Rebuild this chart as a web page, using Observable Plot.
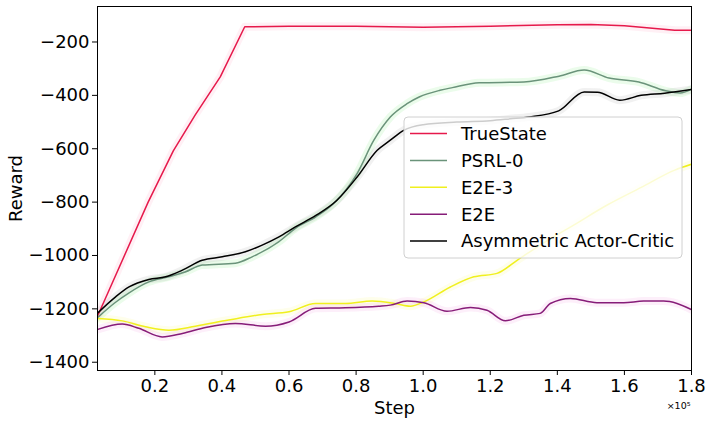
<!DOCTYPE html>
<html>
<head>
<meta charset="utf-8">
<script src="https://cdn.jsdelivr.net/npm/d3@7"></script>
<script src="https://cdn.jsdelivr.net/npm/@observablehq/plot@0.6"></script>
<style>
  body { margin: 0; background: #fff; }
  #chart { position: relative; width: 712px; height: 424px; }
</style>
</head>
<body>
<div id="chart"></div>
<script>
// ---- data (step in units of 1e5) ----
const seriesNames = ["TrueState", "PSRL-0", "E2E-3", "E2E", "Asymmetric Actor-Critic"];
const seriesColors = ["#e6194b", "#6a937a", "#f0f01e", "#861c78", "#000000"];
const glowColors = ["#ff6f9a", "#39e63c", "#f5f53a", "#f060d0", "#777777"];

const trueSteps = [0.03, 0.18, 0.255, 0.32, 0.395, 0.468, 0.6, 0.8, 1.0, 1.2, 1.4, 1.5, 1.6, 1.7, 1.75, 1.8];
const trueVals  = [-1225, -800, -608, -474, -331, -143, -141, -141, -145, -141, -135, -134, -139, -150, -156, -156];

const psrlSteps = [0.03, 0.08, 0.122, 0.182, 0.241, 0.29, 0.341, 0.44, 0.49, 0.569, 0.619, 0.68, 0.733, 0.803, 0.853, 0.902, 0.952, 0.988, 1.05, 1.087, 1.167, 1.3, 1.405, 1.48, 1.554, 1.643, 1.723, 1.766, 1.8];
const psrlVals  = [-1232, -1178, -1141, -1099, -1080, -1062, -1036, -1029, -1005, -949, -898, -855, -805, -693, -568, -481, -431, -406, -381, -371, -353, -350, -328, -305, -335, -350, -383, -391, -377];

const e2e3Steps = [0.03, 0.103, 0.172, 0.242, 0.321, 0.42, 0.52, 0.6, 0.679, 0.768, 0.848, 0.917, 0.962, 1.002, 1.081, 1.151, 1.22, 1.28, 1.35, 1.45, 1.55, 1.65, 1.75, 1.8];
const e2e3Vals  = [-1236, -1245, -1267, -1280, -1265, -1242, -1221, -1211, -1180, -1180, -1171, -1180, -1190, -1174, -1118, -1080, -1067, -1018, -960, -885, -810, -745, -680, -658];

const e2eSteps = [0.03, 0.103, 0.152, 0.222, 0.282, 0.351, 0.44, 0.53, 0.6, 0.679, 0.768, 0.867, 0.902, 0.952, 1.002, 1.071, 1.141, 1.19, 1.245, 1.3, 1.349, 1.379, 1.439, 1.518, 1.598, 1.657, 1.717, 1.757, 1.8];
const e2eVals  = [-1277, -1257, -1273, -1305, -1292, -1270, -1255, -1265, -1249, -1198, -1196, -1190, -1186, -1171, -1177, -1209, -1195, -1205, -1245, -1224, -1217, -1180, -1161, -1177, -1177, -1171, -1171, -1180, -1203];

const aacSteps = [0.03, 0.083, 0.123, 0.182, 0.232, 0.282, 0.341, 0.401, 0.47, 0.52, 0.57, 0.619, 0.68, 0.743, 0.803, 0.863, 0.902, 0.942, 1.0, 1.1, 1.2, 1.26, 1.316, 1.404, 1.48, 1.52, 1.586, 1.65, 1.72, 1.8];
const aacVals  = [-1215, -1155, -1118, -1090, -1080, -1055, -1018, -1005, -986, -961, -930, -893, -850, -793, -706, -606, -568, -531, -510, -500, -495, -488, -481, -458, -387, -388, -418, -400, -392, -378];

const xTicks = [0.2, 0.4, 0.6, 0.8, 1.0, 1.2, 1.4, 1.6, 1.8];
const yTicks = [-1400, -1200, -1000, -800, -600, -400, -200];

const stepsList = [trueSteps, psrlSteps, e2e3Steps, e2eSteps, aacSteps];
const valsList = [trueVals, psrlVals, e2e3Vals, e2eVals, aacVals];
const curves = ["linear", "monotone-x", "monotone-x", "monotone-x", "monotone-x"];

const rows = seriesNames.map((name, i) =>
  stepsList[i].map((s, j) => ({series: name, step: s, reward: valsList[i][j]})));

const FONT = "DejaVu Sans, sans-serif";
const FS = 18;
const marks = [];
rows.forEach((r, i) => {
  marks.push(Plot.line(r, {x: "step", y: "reward", stroke: glowColors[i], strokeWidth: 8, strokeOpacity: 0.1, curve: curves[i], clip: true}));
});
rows.forEach((r, i) => {
  marks.push(Plot.line(r, {x: "step", y: "reward", stroke: seriesColors[i], strokeWidth: 1.5, curve: curves[i], clip: true}));
});

const plot = Plot.plot({
  width: 712,
  height: 424,
  marginLeft: 97,
  marginRight: 21,
  marginTop: 6,
  marginBottom: 54,
  style: {fontFamily: FONT, fontSize: FS + "px", color: "#000", background: "#fff", overflow: "visible"},
  x: {domain: [0.029, 1.8]},
  y: {domain: [-1431, -67]},
  marks: [
    ...marks,
    Plot.frame({stroke: "#000", strokeWidth: 1}),
    Plot.axisX(xTicks, {tickSize: 5, tickPadding: 4, tickFormat: d3.format(".1f"), label: null, fontSize: FS}),
    Plot.axisY(yTicks, {tickSize: 5, tickPadding: 3, tickFormat: d => d3.format(".0f")(d).replace("-", "\u2212"), label: null, fontSize: FS}),
    Plot.text(["Reward"], {frameAnchor: "left", dx: -81, rotate: -90, lineAnchor: "middle", textAnchor: "middle", fontSize: FS}),
    Plot.text(["Step"], {frameAnchor: "bottom", dy: 38, lineAnchor: "middle", fontSize: FS}),
    Plot.text(["\u00d710\u2075"], {frameAnchor: "bottom-right", textAnchor: "end", dy: 35, dx: -1, lineAnchor: "middle", fontSize: 9.5})
  ]
});
document.getElementById("chart").appendChild(plot);

// ---- legend drawn inside the SVG ----
const svg = d3.select(plot);
const lg = svg.append("g").attr("transform", "translate(404,117)");
lg.append("rect").attr("width", 278).attr("height", 141).attr("rx", 4)
  .attr("fill", "#ffffff").attr("fill-opacity", 0.8)
  .attr("stroke", "#d0d0d0").attr("stroke-width", 1)
  .style("fill", "#ffffff").style("fill-opacity", 0.8);
seriesNames.forEach((name, i) => {
  const cy = 16.5 + i * 26.9;
  lg.append("line").attr("x1", 6).attr("x2", 43).attr("y1", cy).attr("y2", cy)
    .attr("stroke", seriesColors[i]).attr("stroke-width", 1.5);
  lg.append("text").attr("x", 57).attr("y", cy).attr("dy", "0.35em")
    .attr("text-anchor", "start").style("text-anchor", "start")
    .attr("font-family", FONT).attr("font-size", FS).attr("fill", "#000").text(name);
});
</script>
</body>
</html>
